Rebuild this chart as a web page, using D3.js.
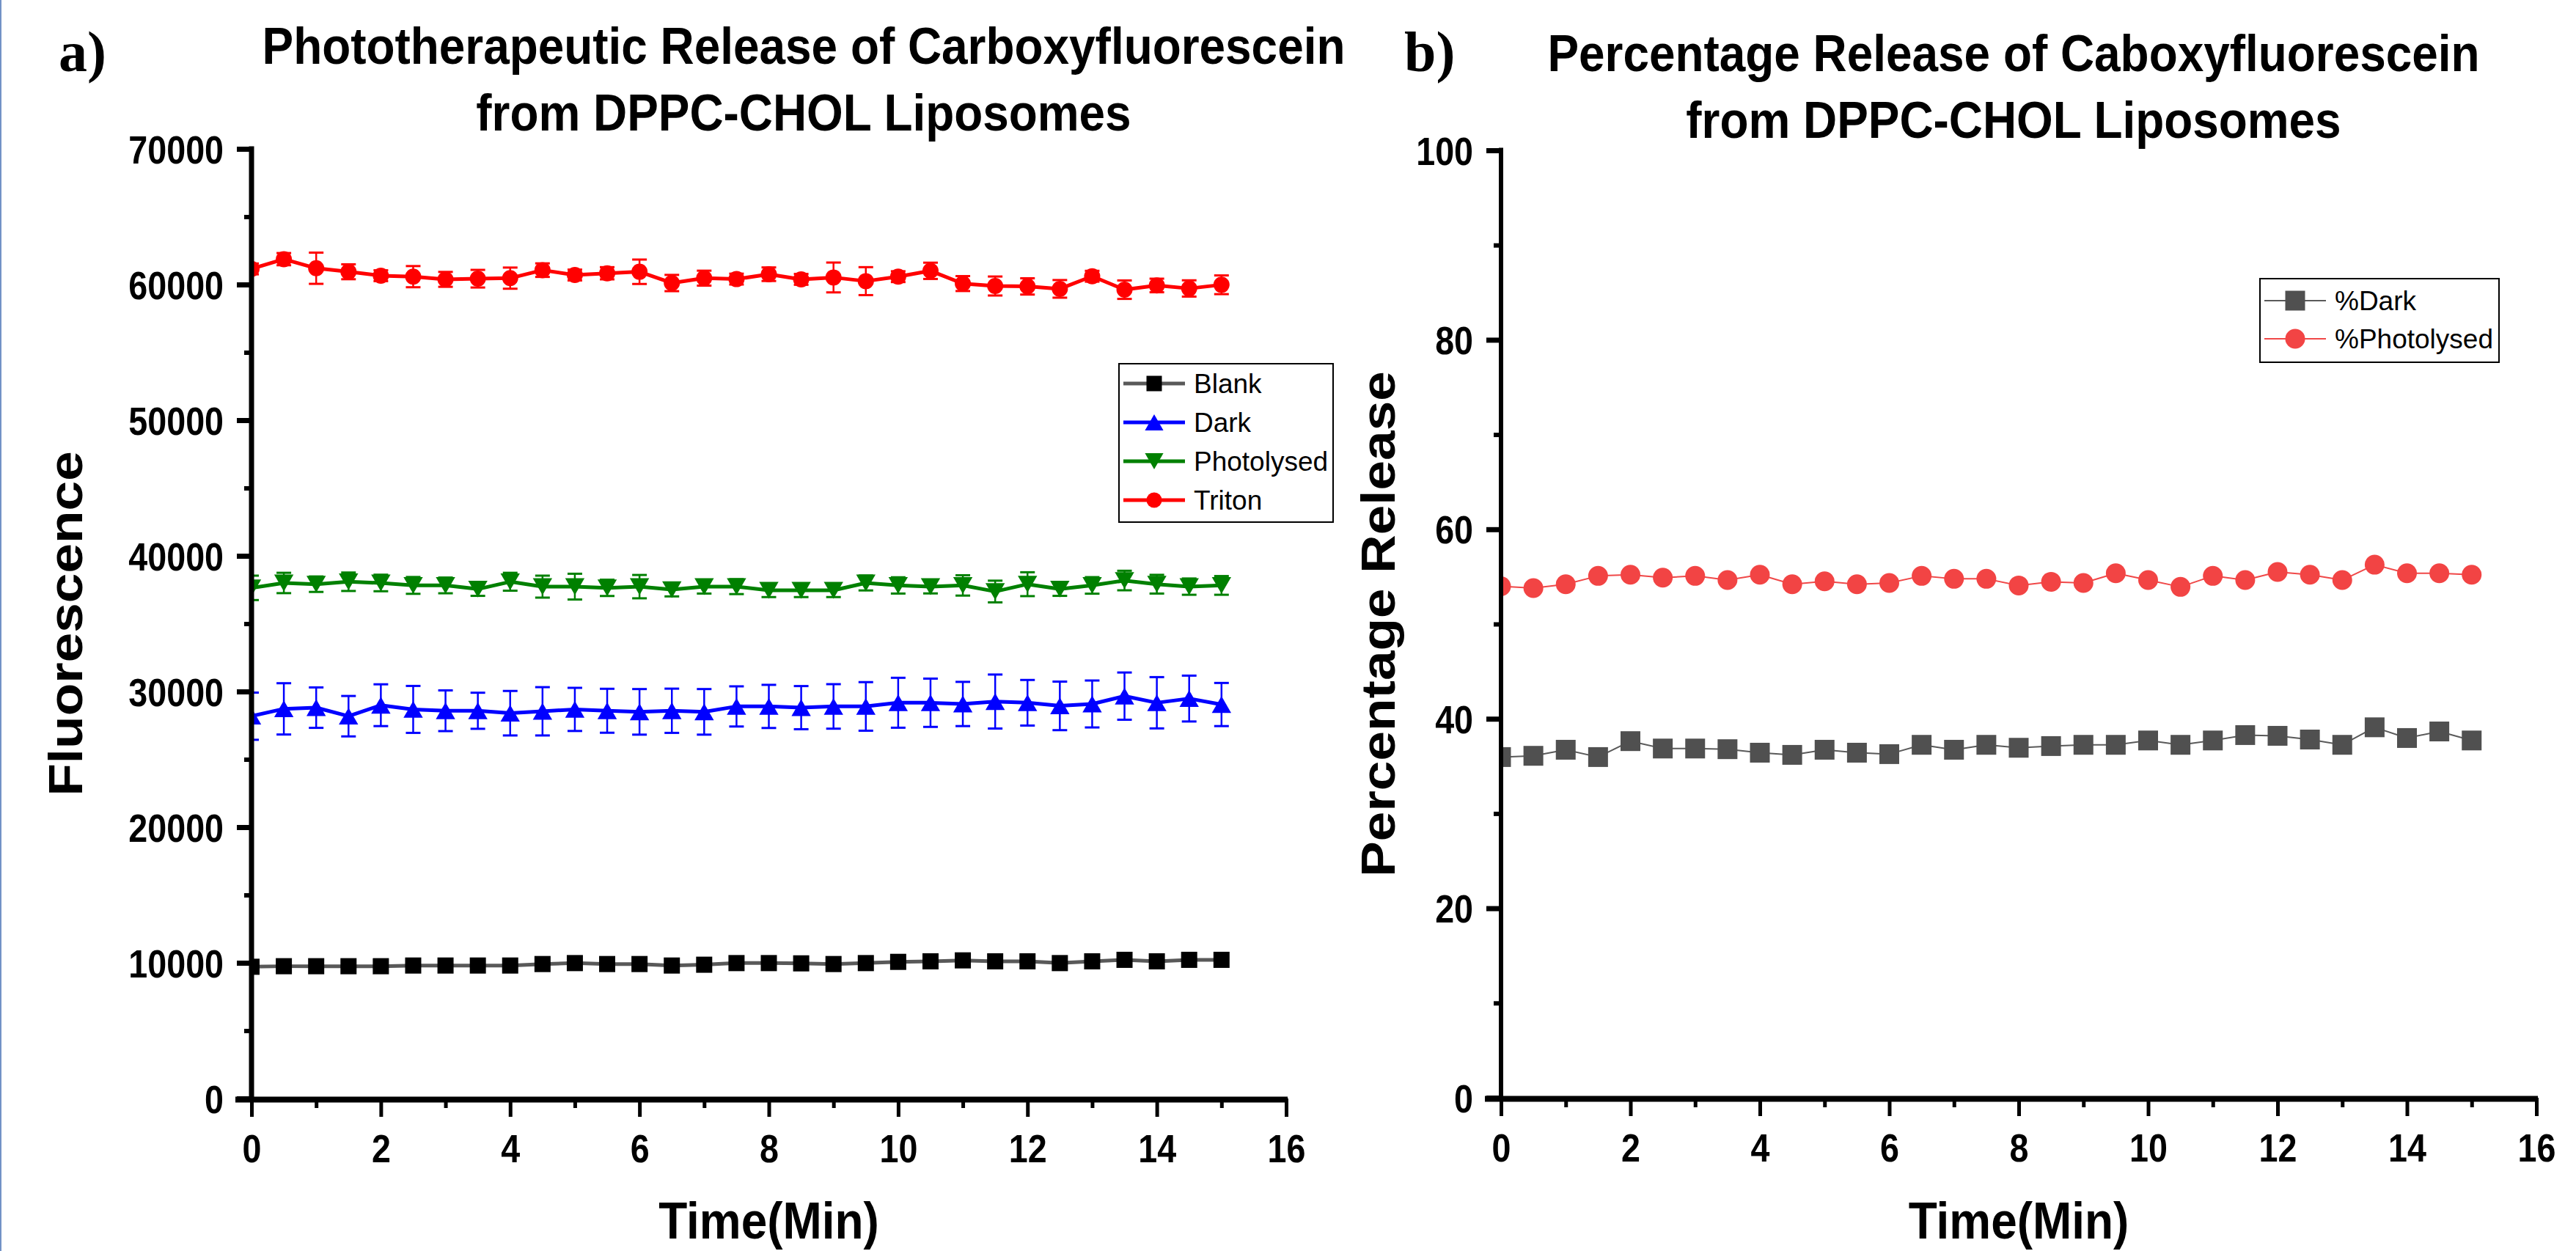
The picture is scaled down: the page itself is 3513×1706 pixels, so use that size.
<!DOCTYPE html>
<html>
<head>
<meta charset="utf-8">
<script src="https://cdn.jsdelivr.net/npm/d3@7"></script>
<style>
body { margin: 0; background: #fff; }
svg { display: block; }
text { font-family: "Liberation Sans", Arial, sans-serif; fill: #000; }
</style>
</head>
<body>
<svg id="chart" width="3513" height="1706"></svg>
<script>
// 時間（分）
var time = [0, 0.5, 1, 1.5, 2, 2.5, 3, 3.5, 4, 4.5, 5, 5.5, 6, 6.5, 7, 7.5,
	8, 8.5, 9, 9.5, 10, 10.5, 11, 11.5, 12, 12.5, 13, 13.5, 14, 14.5, 15];

// a) 蛍光強度
var blank = [9710, 9750, 9750, 9750, 9750, 9800, 9800, 9800, 9800, 9910, 9980, 9910, 9910, 9800, 9860, 9980,
	9980, 9960, 9910, 9980, 10070, 10110, 10180, 10110, 10110, 9980, 10110, 10220, 10110, 10220, 10220];
var blankErr = [200, 150, 150, 150, 150, 250, 150, 150, 150, 200, 250, 200, 200, 150, 200, 250,
	250, 250, 200, 250, 250, 250, 250, 250, 250, 250, 250, 250, 250, 250, 250];
var dark = [28180, 28720, 28810, 28180, 28990, 28680, 28580, 28580, 28400, 28540, 28680, 28580, 28500, 28580, 28500, 28900,
	28900, 28810, 28900, 28900, 29170, 29170, 29080, 29260, 29170, 28940, 29080, 29660, 29170, 29480, 29040];
var darkErr = [1740, 1890, 1490, 1490, 1540, 1730, 1500, 1330, 1640, 1780, 1590, 1620, 1680, 1630, 1680, 1480,
	1590, 1590, 1640, 1790, 1840, 1780, 1630, 1990, 1680, 1790, 1730, 1740, 1890, 1690, 1590];
var photolysed = [37640, 38000, 37910, 38090, 38000, 37820, 37820, 37550, 38090, 37730, 37730, 37640, 37730, 37510, 37730, 37730,
	37460, 37460, 37460, 38000, 37820, 37730, 37820, 37370, 37910, 37550, 37820, 38180, 37910, 37730, 37820];
var photolysedErr = [900, 750, 570, 680, 610, 620, 580, 500, 660, 810, 950, 600, 860, 500, 510, 550,
	500, 500, 500, 550, 600, 500, 750, 800, 880, 500, 610, 720, 690, 600, 690];
var triton = [61150, 61870, 61200, 60940, 60650, 60580, 60380, 60430, 60470, 61060, 60700, 60830, 60940, 60110, 60470, 60400,
	60760, 60380, 60520, 60250, 60580, 61010, 60070, 59890, 59860, 59680, 60610, 59620, 59930, 59710, 59980];
var tritonErr = [400, 450, 1150, 550, 400, 780, 550, 650, 780, 500, 400, 450, 900, 600, 550, 400,
	500, 400, 1100, 1030, 400, 600, 550, 700, 600, 650, 400, 680, 500, 600, 690];

// b) 放出率（%）
var pctDark = [35.96, 36.09, 36.73, 35.96, 37.64, 36.86, 36.86, 36.79, 36.42, 36.19, 36.73, 36.42, 36.27, 37.25, 36.73, 37.25,
	36.94, 37.12, 37.25, 37.25, 37.71, 37.25, 37.71, 38.28, 38.20, 37.81, 37.25, 39.10, 37.97, 38.66, 37.71];
var pctPhotolysed = [53.99, 53.79, 54.20, 55.08, 55.20, 54.89, 55.08, 54.64, 55.20, 54.20, 54.51, 54.20, 54.33, 55.08, 54.77, 54.77,
	54.07, 54.46, 54.33, 55.36, 54.64, 53.92, 55.08, 54.64, 55.49, 55.20, 54.64, 56.26, 55.36, 55.36, 55.20];

// 目盛り
var xTicks = [0, 2, 4, 6, 8, 10, 12, 14, 16];
var xMinor = [1, 3, 5, 7, 9, 11, 13, 15];
var yTicksA = [0, 10000, 20000, 30000, 40000, 50000, 60000, 70000];
var yMinorA = [5000, 15000, 25000, 35000, 45000, 55000, 65000];
var yTicksB = [0, 20, 40, 60, 80, 100];
var yMinorB = [10, 30, 50, 70, 90];

var svg = d3.select("#chart");
svg.append("rect").attr("width", 3513).attr("height", 1706).attr("fill", "#fff");
svg.append("rect").attr("x", 0).attr("width", 2).attr("height", 1706).attr("fill", "#7292c6");	// 左端の線

// 横方向に文字を詰める（x座標を保ったまま横だけ縮める）
function squeeze(sel, k) {
	sel.each(function() {
		var t = d3.select(this);
		var x = +(t.attr("x") || 0);
		t.attr("x", x / k).attr("transform", "scale(" + k + ",1)");
	});
}

// マーカーの形
function shapePath(shape, s) {
	var h = s / 2;
	if (shape == "square") return "M" + (-h) + "," + (-h) + "h" + s + "v" + s + "h" + (-s) + "Z";
	if (shape == "circle") return "M" + h + ",0A" + h + "," + h + " 0 1 1 " + (-h) + ",0A" + h + "," + h + " 0 1 1 " + h + ",0Z";
	var w = s * 0.6, t = s * 0.52;
	if (shape == "up") return "M0," + (-t) + "L" + w + "," + t + "L" + (-w) + "," + t + "Z";
	return "M0," + t + "L" + w + "," + (-t) + "L" + (-w) + "," + (-t) + "Z";	// 下向き三角
}

function drawPanel(p) {
	var x = d3.scaleLinear().domain([0, 16]).range(p.xRange);
	var y = d3.scaleLinear().domain(p.yDomain).range(p.yRange);
	var yMax = p.yDomain[1];
	var g = svg.append("g");

	// プロット領域で切り取る
	g.append("clipPath").attr("id", p.id + "Clip").append("rect")
		.attr("x", x(0)).attr("y", y(yMax) - 60)
		.attr("width", x(16) - x(0) + 30).attr("height", y(0) - y(yMax) + 60);
	var plot = g.append("g").attr("clip-path", "url(#" + p.id + "Clip)");

	p.series.forEach(function(s) {
		var pts = time.map(function(t, i) {
			return { t: t, v: s.values[i], e: s.err ? s.err[i] : 0 };
		});
		plot.append("path").datum(pts)
			.attr("fill", "none").attr("stroke", s.line).attr("stroke-width", p.lineWidth)
			.attr("stroke-linejoin", "round")
			.attr("d", d3.line().x(function(d) { return x(d.t); }).y(function(d) { return y(d.v); }));
		if (s.err) {
			var eb = plot.append("g").attr("stroke", s.fill);
			eb.selectAll(null).data(pts).enter().append("line")
				.attr("x1", function(d) { return x(d.t); }).attr("x2", function(d) { return x(d.t); })
				.attr("y1", function(d) { return y(d.v - d.e); }).attr("y2", function(d) { return y(d.v + d.e); })
				.attr("stroke-width", 2.5);
			[-1, 1].forEach(function(sign) {
				eb.selectAll(null).data(pts).enter().append("line")
					.attr("x1", function(d) { return x(d.t) - 10; }).attr("x2", function(d) { return x(d.t) + 10; })
					.attr("y1", function(d) { return y(d.v + sign * d.e); }).attr("y2", function(d) { return y(d.v + sign * d.e); })
					.attr("stroke-width", 3);
			});
		}
		plot.selectAll(null).data(pts).enter().append("path")
			.attr("transform", function(d) { return "translate(" + x(d.t) + "," + y(d.v) + ")"; })
			.attr("d", shapePath(s.shape, p.markerSize))
			.attr("fill", s.fill);
	});

	// Y軸
	var ya = g.append("g").attr("transform", "translate(" + x(0) + ",0)");
	ya.call(d3.axisLeft(y).tickValues(p.yTicks).tickSize(20).tickSizeOuter(0).tickPadding(18).tickFormat(d3.format("d")));
	ya.select(".domain").remove();
	ya.selectAll(".tick line").attr("stroke", "#000").attr("stroke-width", 7);
	ya.selectAll(".tick text").attr("font-size", 53).attr("font-weight", "bold").attr("dy", "0.36em").call(squeeze, 0.88);
	var ym = g.append("g").attr("transform", "translate(" + x(0) + ",0)");
	ym.call(d3.axisLeft(y).tickValues(p.yMinor).tickSize(10).tickSizeOuter(0).tickFormat(""));
	ym.select(".domain").remove();
	ym.selectAll(".tick line").attr("stroke", "#000").attr("stroke-width", 6);
	g.append("line").attr("x1", x(0)).attr("x2", x(0)).attr("y1", y(yMax) - 3.5).attr("y2", y(0) + 4)
		.attr("stroke", "#000").attr("stroke-width", p.yAxisWidth);

	// X軸
	var xa = g.append("g").attr("transform", "translate(0," + y(0) + ")");
	xa.call(d3.axisBottom(x).tickValues(xTicks).tickSize(25).tickSizeOuter(0).tickPadding(24));
	xa.select(".domain").remove();
	xa.selectAll(".tick line").attr("stroke", "#000").attr("stroke-width", 5);
	xa.selectAll(".tick text").attr("font-size", 53).attr("font-weight", "bold").call(squeeze, 0.88);
	var xm = g.append("g").attr("transform", "translate(0," + y(0) + ")");
	xm.call(d3.axisBottom(x).tickValues(xMinor).tickSize(13).tickSizeOuter(0).tickFormat(""));
	xm.select(".domain").remove();
	xm.selectAll(".tick line").attr("stroke", "#000").attr("stroke-width", 5);
	g.append("line").attr("x1", x(0) - 22).attr("x2", x(16) + 2).attr("y1", y(0) + 1.5).attr("y2", y(0) + 1.5)
		.attr("stroke", "#000").attr("stroke-width", 8);

	// 軸タイトル
	g.append("text").attr("x", x(8)).attr("y", 1689).attr("text-anchor", "middle")
		.attr("font-size", 71).attr("font-weight", "bold").text("Time(Min)").call(squeeze, 0.9);
	g.append("text").attr("text-anchor", "middle")
		.attr("transform", "translate(" + p.yTitleX + "," + (y(0) + y(yMax)) / 2 + ") scale(0.9,1) rotate(-90)")
		.attr("font-size", 73).attr("font-weight", "bold").text(p.yTitle);

	// パネル記号とタイトル
	g.append("text").attr("x", p.tagX).attr("y", 97).attr("font-size", 78).attr("font-weight", "bold")
		.style("font-family", '"Liberation Serif", "Times New Roman", serif').text(p.tag);
	p.title.forEach(function(line, i) {
		g.append("text").attr("x", p.titleX).attr("y", p.titleY + i * 91).attr("text-anchor", "middle")
			.attr("font-size", 71).attr("font-weight", "bold").text(line).call(squeeze, 0.9);
	});

	// 凡例
	var lg = p.legend;
	var leg = g.append("g");
	leg.append("rect").attr("x", lg.x).attr("y", lg.y).attr("width", lg.w).attr("height", lg.h)
		.attr("fill", "#fff").attr("stroke", "#000").attr("stroke-width", 2);
	p.series.forEach(function(s, i) {
		var ry = lg.row0 + i * lg.step;
		leg.append("line").attr("x1", lg.x + 6).attr("x2", lg.x + 90).attr("y1", ry).attr("y2", ry)
			.attr("stroke", s.line).attr("stroke-width", p.lineWidth);
		leg.append("path").attr("transform", "translate(" + (lg.x + 48) + "," + ry + ")")
			.attr("d", shapePath(s.shape, lg.marker)).attr("fill", s.fill);
		leg.append("text").attr("x", lg.x + 102).attr("y", ry).attr("dy", "0.36em")
			.attr("font-size", 37).text(s.name);
	});
}

drawPanel({
	id: "a", tag: "a)", tagX: 80,
	title: ["Phototherapeutic Release of Carboxyfluorescein", "from DPPC-CHOL Liposomes"],
	titleX: 1096, titleY: 87,
	xRange: [343, 1754], yDomain: [0, 70000], yRange: [1498, 203],
	yTicks: yTicksA, yMinor: yMinorA, yTitle: "Fluorescence", yTitleX: 112, yAxisWidth: 7,
	lineWidth: 5, markerSize: 22,
	series: [
		{ name: "Blank", values: blank, err: blankErr, shape: "square", fill: "#000", line: "#595959" },
		{ name: "Dark", values: dark, err: darkErr, shape: "up", fill: "#0000ff", line: "#0000ff" },
		{ name: "Photolysed", values: photolysed, err: photolysedErr, shape: "down", fill: "#008000", line: "#008000" },
		{ name: "Triton", values: triton, err: tritonErr, shape: "circle", fill: "#ff0000", line: "#ff0000" }
	],
	legend: { x: 1526, y: 496, w: 292, h: 216, row0: 523, step: 53, marker: 21 }
});

drawPanel({
	id: "b", tag: "b)", tagX: 1915,
	title: ["Percentage Release of Caboxyfluorescein", "from DPPC-CHOL Liposomes"],
	titleX: 2746, titleY: 97,
	xRange: [2047, 3459], yDomain: [0, 100], yRange: [1497, 205],
	yTicks: yTicksB, yMinor: yMinorB, yTitle: "Percentage Release", yTitleX: 1902, yAxisWidth: 6,
	lineWidth: 2, markerSize: 27,
	series: [
		{ name: "%Dark", values: pctDark, shape: "square", fill: "#505050", line: "#5a5a5a" },
		{ name: "%Photolysed", values: pctPhotolysed, shape: "circle", fill: "#f24444", line: "#f04848" }
	],
	legend: { x: 3082, y: 380, w: 326, h: 114, row0: 410, step: 52, marker: 27 }
});
</script>
</body>
</html>
